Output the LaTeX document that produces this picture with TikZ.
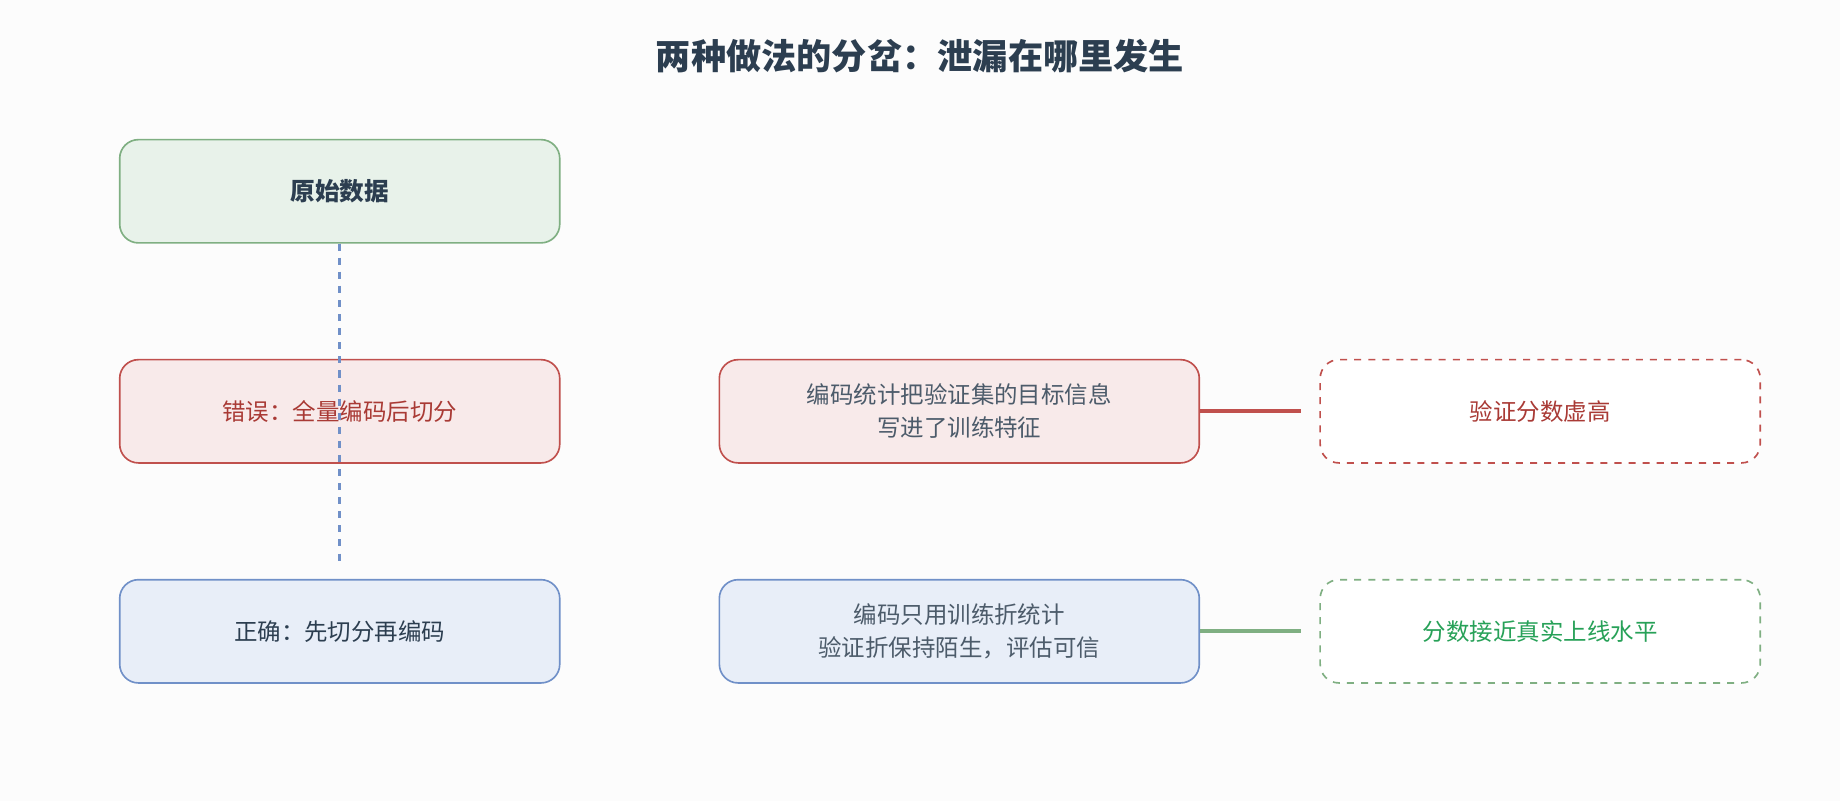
\documentclass[tikz,border=0pt]{standalone}
\usepackage{fontspec}
\setmainfont{Noto Sans CJK SC}
\begin{document}
\begin{tikzpicture}[x=0.5pt,y=-0.5pt,
 box/.style={draw,rounded corners=8pt,minimum width=187.5pt,minimum height=44pt,line width=0.7pt,align=center,font=\fontsize{10}{14}\selectfont},
 mid/.style={box,minimum width=204.5pt},
 dbox/.style={box,dashed,fill=white}]
\definecolor{dark}{HTML}{2C3E50}
\definecolor{gb}{HTML}{7FAF82}\definecolor{gf}{HTML}{E8F2EA}
\definecolor{rb}{HTML}{C0504D}\definecolor{rf}{HTML}{F8EAEA}\definecolor{rt}{HTML}{A93A35}
\definecolor{bb}{HTML}{7090C8}\definecolor{bf}{HTML}{E8EEF8}
\definecolor{gt}{HTML}{27A158}
\fill[fill={rgb,255:red,252;green,252;blue,252}] (0,0) rectangle (1568,683);
\useasboundingbox (0,0) rectangle (1568,683);
\node[font=\bfseries\fontsize{15}{18}\selectfont,text=dark] (title) at (784,48) {两种做法的分岔：泄漏在哪里发生};
\node[box,draw=gb,fill=gf,text=dark,font=\bfseries\fontsize{10.5}{14}\selectfont] (raw) at (289.5,163) {原始数据};
\node[box,draw=rb,fill=rf,text=rt] (wrong) at (289.5,350.5) {错误：全量编码后切分};
\node[box,draw=bb,fill=bf,text=dark] (right) at (289.5,538) {正确：先切分再编码};
\node[mid,draw=rb,fill=rf,text=dark!85] (m1) at (817.5,350.5) {编码统计把验证集的目标信息\\写进了训练特征};
\node[mid,draw=bb,fill=bf,text=dark!85] (m2) at (817.5,538) {编码只用训练折统计\\验证折保持陌生，评估可信};
\node[dbox,draw=rb,text=rt] (r1) at (1312.5,350.5) {验证分数虚高};
\node[dbox,draw=gb,text=gt] (r2) at (1312.5,538) {分数接近真实上线水平};
\draw[rb,dashed,line width=1.3pt] (raw.south) -- ([yshift=6]wrong.north);
\draw[bb,dashed,line width=1.3pt] (raw.south) -- ([yshift=6]right.north);
\draw[rb,line width=1.6pt] (m1.east) -- ([xshift=-8]r1.west);
\draw[gb,line width=1.6pt] (m2.east) -- ([xshift=-8]r2.west);
\end{tikzpicture}
\end{document}
